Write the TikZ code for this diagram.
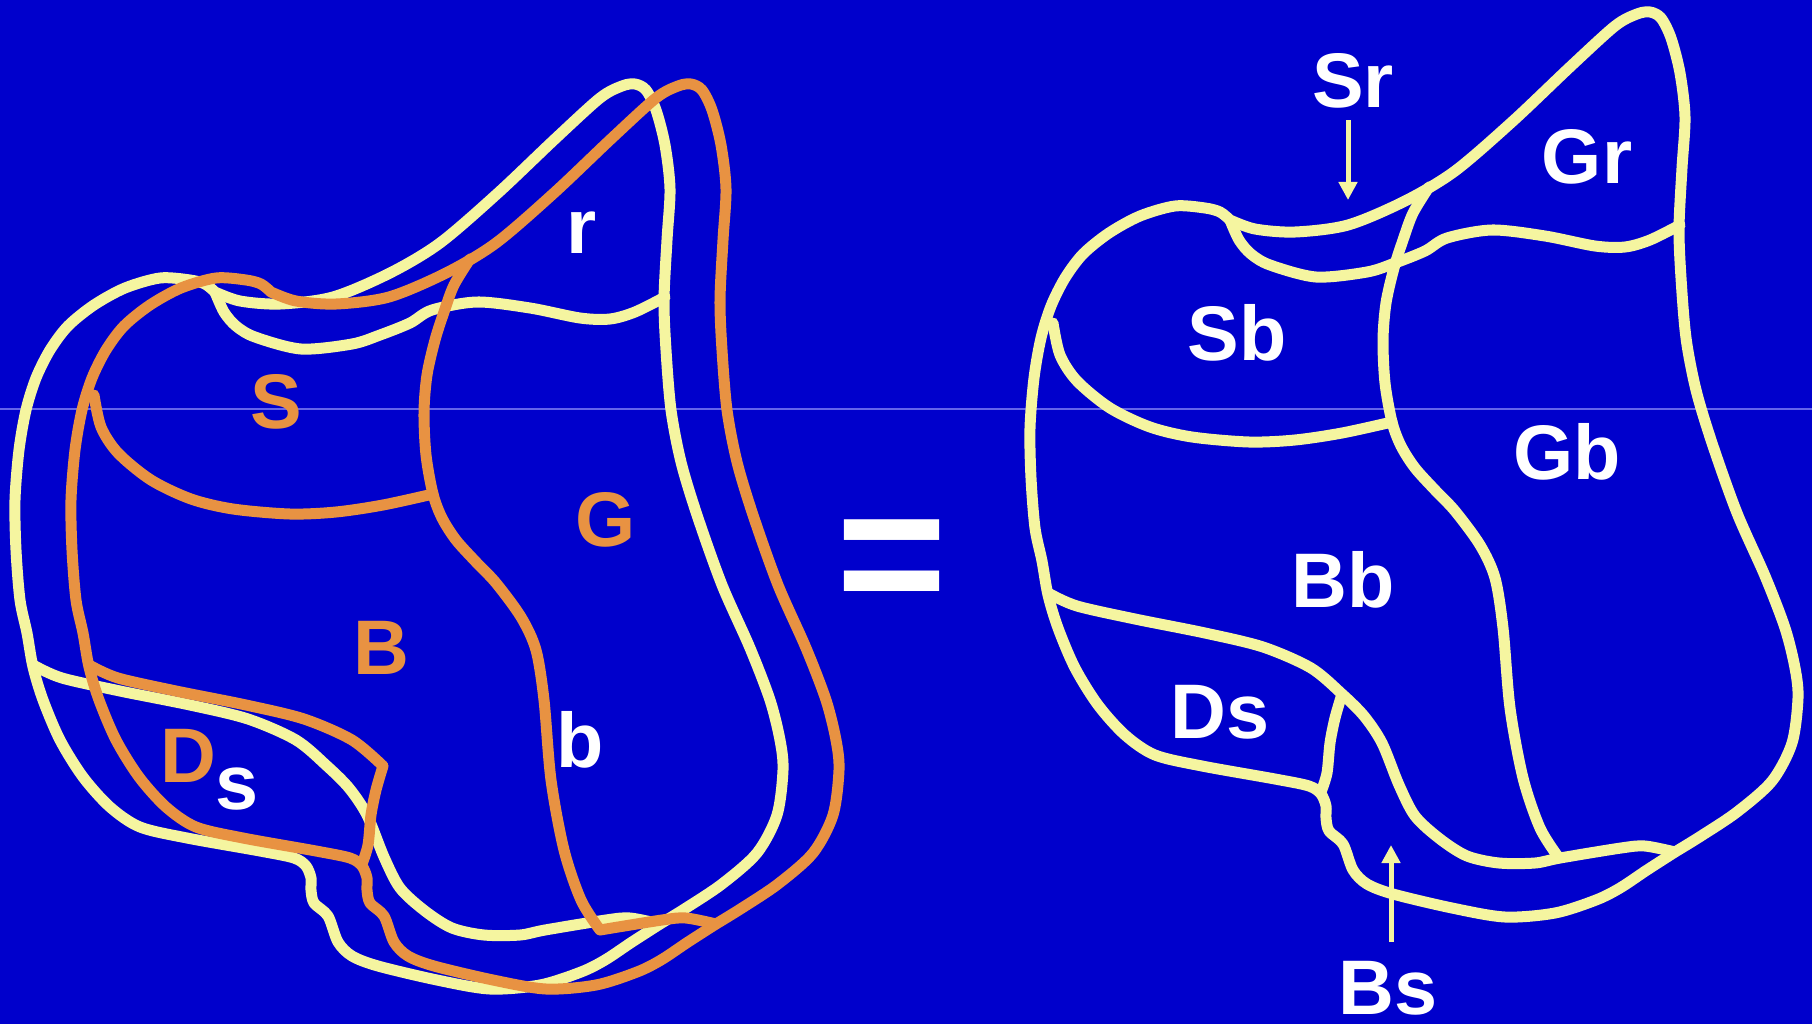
\documentclass[tikz,border=0pt]{standalone}
\usepackage{fontspec}
\setmainfont{Liberation Sans}
\usetikzlibrary{arrows.meta}
\definecolor{bgblue}{RGB}{0,0,204}
\definecolor{ylw}{RGB}{245,245,160}
\definecolor{org}{RGB}{232,146,66}
\definecolor{scanline}{RGB}{100,100,235}

\newcommand\pOutline{plot[smooth,tension=0.5] coordinates {(215,292) (240,301) (280,304) (333,297) (390,273) (440,243) (498,193) (555,139) (600,98) (622,86) (635,84) (646,90) (656,110) (665,145) (670,189) (667,240) (664,300) (666,350) (671,410) (681,462) (697,515) (722,585) (750,648) (770,700) (780,740) (783,770) (777,815) (757,853) (722,884) (686,908) (660,924)}
 -- plot[smooth,tension=0.5] coordinates {(660,924) (632,942) (605,960) (581,972) (540,985) (490,989) (437,980) (378,966) (352,956) (338,942) (328,916) (314,903) (311,890) (311,878) (306,866) (294,858) (260,851) (187,838) (140,827) (110,807) (83,777) (60,740) (43,700) (33,667) (27,633) (20,600) (16,550) (15,500) (19,450) (26,410) (36,378) (50,350) (68,326) (94,305) (125,288) (160,278) (190,280) (205,284) (215,292)} -- cycle}
\newcommand\pYone{plot[smooth,tension=0.5] coordinates {(215,292) (224,312) (236,326) (255,337) (301,349) (352,344) (380,335) (410,323) (432,310) (477,302) (530,308) (580,318) (610,319) (635,312) (665,297)}}
\newcommand\pYtwo{plot[smooth,tension=0.5] coordinates {(35,666) (62,678) (120,691) (190,705) (248,719) (296,740) (327,766) (349,788) (367,815) (384,857) (400,888) (425,911) (452,928) (484,935) (520,935) (545,930) (606,920) (630,918) (660,924)}}
\newcommand\pYtwoa{plot[smooth,tension=0.5] coordinates {(35,666) (62,678) (120,691) (190,705) (248,719) (296,740) (327,766)}}
\newcommand\pYtwoc{plot[smooth,tension=0.5] coordinates {(544,930) (606,920) (630,918) (660,924)}}
\newcommand\pOone{plot[smooth,tension=0.5] coordinates {(38,395) (45,427) (62,453) (95,480) (135,499) (177,509) (234,514) (280,512) (327,505) (377,494)}}
\newcommand\pOtwo{plot[smooth,tension=0.5] coordinates {(414,259) (398,285) (388,312) (379,340) (371,375) (368,412) (370,455) (377,494) (386,518) (400,540) (420,562) (440,583) (465,617) (480,650) (488,700) (495,780) (508,850) (525,900) (544,930)}}
\newcommand\pOthree{plot[smooth,tension=0.5] coordinates {(327,766) (320,790) (315,815) (312,845) (306,864)}}

\begin{document}
\begin{tikzpicture}[x=0.01cm,y=-0.01cm,
  yl/.style={draw=ylw,line width=0.11cm,line join=round,line cap=round},
  ol/.style={draw=org,line width=0.11cm,line join=round,line cap=round},
  lab/.style={font=\fontsize{22pt}{24pt}\selectfont\bfseries,text=white,inner sep=0pt,anchor=base},
  olab/.style={lab,text=org},
  arr/.style={draw=ylw,line width=0.05cm,-{Triangle[length=0.18cm,width=0.18cm]}}]
\fill[bgblue] (0,0) rectangle (1812,1024);
\useasboundingbox (0,0) rectangle (1812,1024);
\draw[scanline,line width=0.012cm] (0,409) -- (1812,409);

% left figure, yellow
\draw[yl] \pOutline;
\draw[yl] \pYone;
\draw[yl] \pYtwo;
% left figure, orange (shifted copy)
\begin{scope}[shift={(56,0)}]
\draw[ol] \pOutline;
\draw[ol] \pOone;
\draw[ol] \pOtwo;
\draw[ol] \pOthree;
\draw[ol] \pYtwoa;
\draw[ol] \pYtwoc;
\end{scope}
% right figure
\begin{scope}[shift={(1015,-72)}]
\draw[yl] \pOutline;
\draw[yl] \pYone;
\draw[yl] \pYtwo;
\draw[yl] \pOone;
\draw[yl] \pOtwo;
\draw[yl] \pOthree;
\end{scope}

% left labels
\node[lab] (r) at (582,253) {r};
\node[olab] (S) at (276,428) {S};
\node[olab] (G) at (606,546) {G};
\node[olab] (B) at (381,674) {B};
\node[lab] (b) at (580,767) {b};
\node[olab] (D) at (188,782) {D};
\node[lab] (s) at (237,809) {s};

% equals
\node[font=\fontsize{54pt}{60pt}\selectfont\bfseries,text=white,inner sep=0pt,anchor=base] (eq) at (892,618) {=};

% right labels
\node[lab] (Sr) at (1353,107) {Sr};
\node[lab] (Gr) at (1587,183) {Gr};
\node[lab] (Sb) at (1237,360) {Sb};
\node[lab] (Gb) at (1567,479) {Gb};
\node[lab] (Bb) at (1343,607) {Bb};
\node[lab] (Ds) at (1220,738) {Ds};
\node[lab] (Bs) at (1388,1014) {Bs};

% arrows
\coordinate (srFrom) at (1348,120);
\coordinate (srTip) at (1348,200);
\coordinate (bsFrom) at (1391,942);
\coordinate (bsTip) at (1391,845);
\draw[arr] (srFrom) -- (srTip);
\draw[arr] (bsFrom) -- (bsTip);
\end{tikzpicture}
\end{document}
